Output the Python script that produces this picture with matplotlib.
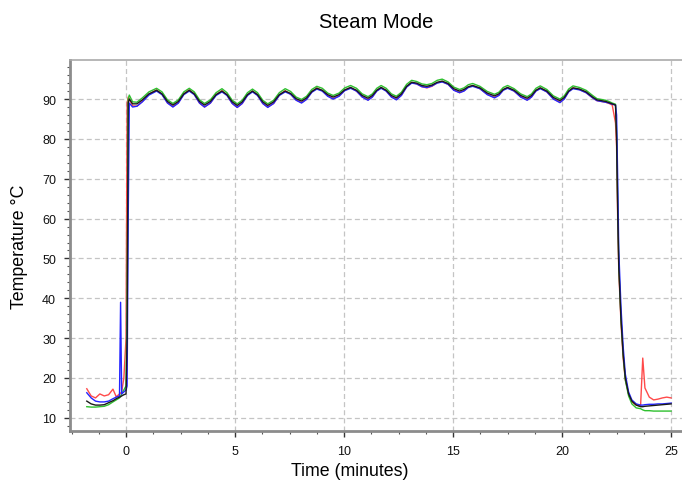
import matplotlib
matplotlib.use("Agg")
import matplotlib.pyplot as plt
from matplotlib.ticker import MultipleLocator

plt.rcParams['font.family'] = ['Liberation Sans', 'DejaVu Sans']

title = "Steam Mode"
xlabel = "Time (minutes)"
ylabel = "Temperature °C"
xticks = [0, 5, 10, 15, 20, 25]
yticks = [10, 20, 30, 40, 50, 60, 70, 80, 90]

time_min = [
    -1.8, -1.6, -1.4, -1.2, -1.0, -0.8, -0.6, -0.45, -0.3, -0.25,
    -0.2, -0.1, 0.0, 0.05, 0.1, 0.15, 0.3, 0.5, 0.75, 1.05,
    1.4, 1.65, 1.9, 2.15, 2.4, 2.65, 2.9, 3.13, 3.37, 3.6,
    3.87, 4.13, 4.4, 4.63, 4.87, 5.1, 5.33, 5.57, 5.8, 6.03,
    6.27, 6.5, 6.77, 7.03, 7.3, 7.55, 7.8, 8.05, 8.28, 8.52,
    8.75, 9.0, 9.25, 9.5, 9.77, 10.03, 10.3, 10.57, 10.83, 11.1,
    11.3, 11.5, 11.7, 11.93, 12.17, 12.4, 12.63, 12.87, 13.1, 13.33,
    13.57, 13.8, 14.03, 14.27, 14.5, 14.77, 15.03, 15.3, 15.5, 15.7,
    15.9, 16.23, 16.57, 16.9, 17.1, 17.3, 17.5, 17.8, 18.1, 18.4,
    18.6, 18.8, 19.0, 19.3, 19.6, 19.9, 20.1, 20.3, 20.5, 20.8,
    21.1, 21.4, 21.6, 21.8, 22.0, 22.15, 22.3, 22.45,
    22.5, 22.55, 22.6, 22.7, 22.8, 22.9, 23.05, 23.2, 23.4, 23.6,
    23.7, 23.8, 24.0, 24.2, 24.4, 24.6, 24.8, 25.0,
]

red = [
    17.3, 15.5, 15.0, 16.0, 15.5, 15.8, 17.2, 15.3, 16.0, 16.2,
    16.5, 20.0, 30.0, 89.0, 90.5, 90.0, 88.3, 88.2, 89.4, 91.2,
    92.3, 91.2, 89.1, 88.1, 89.1, 91.3, 92.3, 91.2, 89.0, 88.0,
    89.0, 91.1, 92.1, 91.0, 88.9, 87.9, 88.9, 91.0, 92.0, 91.0,
    88.9, 88.0, 88.9, 91.0, 92.1, 91.2, 89.8, 89.1, 90.0, 91.8,
    92.8, 92.1, 90.8, 90.1, 90.8, 92.2, 92.9, 92.0, 90.6, 89.8,
    90.6, 92.1, 92.9, 92.1, 90.6, 89.9, 91.0, 93.1, 94.2, 93.8,
    93.1, 92.8, 93.2, 94.1, 94.4, 93.7, 92.3, 91.6, 92.1, 93.0,
    93.4, 92.6, 91.2, 90.4, 91.0, 92.3, 92.9, 92.0, 90.6, 89.8,
    90.6, 92.1, 92.8, 91.8, 90.1, 89.2, 90.1, 91.9, 92.8, 92.4,
    91.6, 90.3, 89.6, 89.4, 89.2, 88.9, 88.5, 84.0,
    78.0, 60.0, 47.0, 34.0, 25.0, 19.5, 16.0, 14.0, 13.2, 13.0,
    25.0, 17.5, 15.2, 14.5, 14.7, 15.0, 15.2, 15.0,
]

blue = [
    16.3, 15.0, 14.2, 14.0, 14.0, 14.2, 14.8, 15.2, 15.5, 39.0,
    16.0, 16.5, 17.0, 18.0, 60.0, 89.0, 88.0, 88.2, 89.3, 91.0,
    92.0, 91.1, 89.0, 88.0, 89.0, 91.1, 92.0, 91.1, 89.0, 88.0,
    89.0, 90.9, 91.8, 90.9, 88.9, 87.9, 88.9, 90.9, 91.8, 90.9,
    88.9, 87.9, 88.9, 90.9, 91.8, 91.2, 89.7, 89.0, 89.9, 91.7,
    92.5, 92.0, 90.7, 90.0, 90.7, 92.1, 92.7, 92.0, 90.5, 89.7,
    90.5, 92.0, 92.7, 92.0, 90.5, 89.8, 90.9, 93.0, 94.0, 93.8,
    93.1, 92.9, 93.3, 94.0, 94.3, 93.7, 92.2, 91.6, 92.0, 92.9,
    93.2, 92.6, 91.1, 90.3, 90.9, 92.2, 92.7, 92.0, 90.5, 89.7,
    90.5, 92.0, 92.6, 91.8, 90.0, 89.1, 90.0, 91.8, 92.6, 92.3,
    91.6, 90.3, 89.6, 89.4, 89.2, 89.0, 88.7, 88.5,
    86.0, 70.0, 52.0, 38.0, 28.0, 21.0, 16.5, 14.5, 13.5, 13.2,
    13.2, 13.3, 13.4, 13.4, 13.5, 13.5, 13.6, 13.7,
]

green = [
    12.8, 12.7, 12.7, 12.8, 12.9, 13.3, 14.0, 14.5, 15.0, 15.5,
    16.0, 17.0, 18.0, 40.0, 90.0, 91.0, 89.3, 89.2, 90.3, 91.8,
    92.7, 91.8, 89.8, 88.9, 89.8, 91.8, 92.7, 91.8, 89.8, 88.9,
    89.8, 91.6, 92.6, 91.6, 89.7, 88.8, 89.7, 91.6, 92.5, 91.6,
    89.7, 88.8, 89.7, 91.6, 92.6, 91.9, 90.5, 89.9, 90.7, 92.4,
    93.2, 92.7, 91.5, 90.9, 91.5, 92.8, 93.4, 92.7, 91.3, 90.6,
    91.3, 92.7, 93.4, 92.7, 91.3, 90.7, 91.7, 93.7, 94.7, 94.4,
    93.8, 93.6, 93.9, 94.7, 95.0, 94.3, 93.0, 92.4, 92.8, 93.6,
    93.9, 93.2, 91.9, 91.2, 91.7, 92.9, 93.4, 92.6, 91.3, 90.6,
    91.3, 92.7, 93.3, 92.4, 90.8, 90.0, 90.8, 92.5, 93.3, 92.9,
    92.2, 90.9, 90.1, 89.9, 89.7, 89.4, 89.0, 88.7,
    82.0, 64.0, 49.0, 35.0, 26.0, 19.5, 15.5, 13.5, 12.5, 12.3,
    12.0, 11.8, 11.8, 11.7, 11.7, 11.7, 11.7, 11.7,
]

black = [
    14.2, 13.5, 13.2, 13.2, 13.3, 13.8, 14.3, 14.8, 15.2, 15.3,
    15.5, 15.8, 16.0, 30.0, 89.0, 90.0, 88.8, 88.8, 89.8, 91.3,
    92.2, 91.3, 89.4, 88.5, 89.4, 91.3, 92.2, 91.3, 89.4, 88.5,
    89.4, 91.1, 92.0, 91.1, 89.3, 88.4, 89.3, 91.1, 92.0, 91.1,
    89.3, 88.4, 89.3, 91.1, 92.0, 91.4, 90.1, 89.5, 90.3, 91.9,
    92.7, 92.2, 91.1, 90.5, 91.1, 92.3, 92.9, 92.2, 90.9, 90.2,
    90.9, 92.2, 92.9, 92.2, 90.9, 90.3, 91.3, 93.2, 94.2, 94.0,
    93.4, 93.2, 93.5, 94.2, 94.5, 93.9, 92.6, 92.0, 92.4, 93.1,
    93.4, 92.8, 91.5, 90.8, 91.3, 92.4, 92.9, 92.2, 90.9, 90.2,
    90.9, 92.2, 92.8, 92.0, 90.4, 89.6, 90.4, 92.0, 92.8, 92.5,
    91.8, 90.5, 89.8, 89.6, 89.4, 89.1, 88.8, 88.5,
    80.0, 62.0, 48.0, 35.0, 26.0, 20.0, 16.0, 14.2, 13.2, 12.8,
    12.8, 12.9, 13.0, 13.1, 13.2, 13.3, 13.4, 13.5,
]

series = [
    (red, "#ff4a4a"),
    (green, "#2ec02e"),
    (blue, "#2424ff"),
    (black, "#1a1a1a"),
]

fig = plt.figure(figsize=(6.82, 4.81), dpi=100)
ax = fig.add_axes([70 / 682, 49 / 481, 612 / 682, 371 / 481])

for vals, col in series:
    ax.plot(time_min, vals, color=col, linewidth=1.0, solid_joinstyle="round")

ax.set_xlim(-2.57, 25.5)
ax.set_ylim(6.7, 99.8)
ax.set_xticks(xticks)
ax.set_yticks(yticks)
ax.xaxis.set_minor_locator(MultipleLocator(1.25))
ax.yaxis.set_minor_locator(MultipleLocator(2))

ax.grid(True, which="major", color="#c4c4c4", linestyle=(0, (4, 2.5)), linewidth=0.9)
ax.set_axisbelow(True)

for s in ["left", "bottom"]:
    ax.spines[s].set_color("#8c8c8c")
    ax.spines[s].set_linewidth(2.0)
ax.spines["top"].set_color("#aaaaaa")
ax.spines["top"].set_linewidth(1.2)
ax.spines["right"].set_visible(False)

ax.tick_params(axis="both", which="major", direction="out", length=4, width=1.0,
               color="#333333", labelsize=9, labelcolor="#111111", pad=6)
ax.tick_params(axis="both", which="minor", direction="out", length=2.5, width=0.8,
               color="#555555")

ax.set_title(title, fontsize=14.5, pad=24)
ax.set_xlabel(xlabel, fontsize=12.8, labelpad=6)
ax.xaxis.set_label_coords(0.457, -0.083)
ax.set_ylabel(ylabel, fontsize=12.8, labelpad=10)

fig.savefig("out.png", dpi=100)
